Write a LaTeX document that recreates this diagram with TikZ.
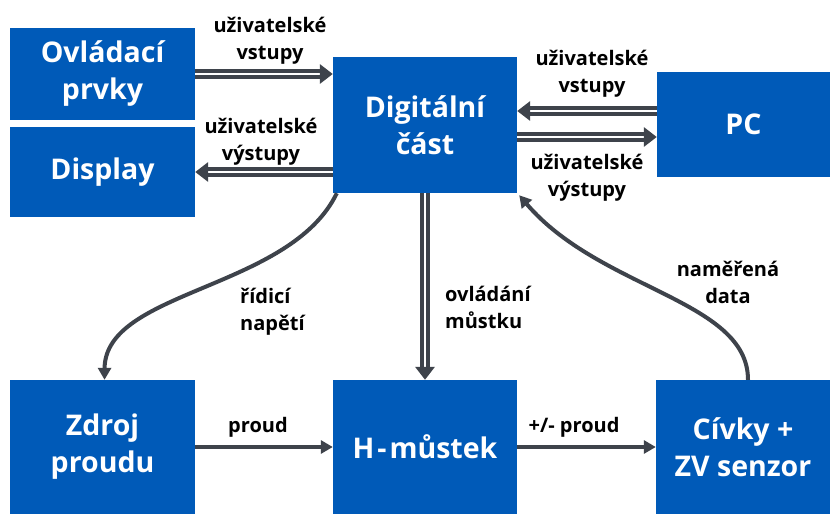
\documentclass[tikz,border=0pt]{standalone}
\usepackage{fontspec}
\setmainfont{Open Sans}
\usetikzlibrary{arrows.meta}
\definecolor{boxblue}{RGB}{0,90,184}
\definecolor{arrgray}{RGB}{62,67,75}
\begin{document}
\begin{tikzpicture}[x=1pt,y=-1pt,
  box/.style={fill=boxblue, draw=none, text=white, font=\fontsize{28.5}{37}\selectfont\bfseries, align=center, inner sep=0pt},
  lbl/.style={font=\fontsize{20}{27}\selectfont\bfseries, inner sep=0pt},
  dbl/.style={draw=arrgray, double=white, line width=4pt, double distance=2pt, -{Triangle[length=13pt,width=19pt]}},
  sgl/.style={draw=arrgray, line width=4pt, -{Triangle[length=12pt,width=13pt]}}]
\useasboundingbox (0,0) rectangle (830,514);
\fill[white] (0,0) rectangle (830,514);
% boxes
\node[box, minimum width=185pt, minimum height=92pt] (ctrl) at (102.5,74) {Ovládací\\prvky};
\node[box, minimum width=185pt, minimum height=90pt] (disp) at (102.5,172) {Display};
\node[box, minimum width=184pt, minimum height=136pt] (dig) at (425,125) {Digitální\\část};
\node[box, minimum width=173pt, minimum height=105pt] (pc) at (743.5,124.5) {PC};
\node[box, minimum width=185pt, minimum height=134pt] (zdroj) at (102.5,447) {Zdroj\\proudu};
\node[box, minimum width=184pt, minimum height=134pt] (hm) at (425,447) {H\kern3pt-\kern3pt můstek};
\node[box, minimum width=174pt, minimum height=134pt] (civ) at (743,447) {Cívky +\\ZV senzor};
% double arrows
\draw[dbl] (ctrl.east) -- (ctrl.east -| dig.west);
\draw[dbl] (dig.west |- disp.east) -- (disp.east);
\draw[dbl] ([yshift=13.5pt]pc.west) -- ([yshift=13.5pt]pc.west -| dig.east);
\draw[dbl] ([yshift=-12.5pt]pc.west -| dig.east) -- ([yshift=-12.5pt]pc.west);
\draw[dbl] (dig.south) -- (hm.north);
% curves
\draw[sgl] ([xshift=4pt]dig.south west) .. controls (290,290) and (105,290) .. ([xshift=2pt]zdroj.north);
\draw[sgl] ([xshift=5pt]civ.north) .. controls (748,300) and (600,290) .. ([xshift=2pt,yshift=-2pt]dig.south east);
% single arrows
\draw[sgl] (zdroj.east) -- (hm.west);
\draw[sgl] (hm.east) -- (civ.west);
% labels
\node[lbl, align=center] (l1) at (270,41) {uživatelské\\vstupy};
\node[lbl, align=center] (l2) at (261,142) {uživatelské\\výstupy};
\node[lbl, align=center] (l3) at (592,74) {uživatelské\\vstupy};
\node[lbl, align=center] (l4) at (587,178) {uživatelské\\výstupy};
\node[lbl, align=left, anchor=west] (l5) at (445,307) {ovládání\\můstku};
\node[lbl, align=left, anchor=west] (l6) at (240,312) {řídicí\\napětí};
\node[lbl, align=center] (l7) at (728,282) {naměřená\\data};
\node[lbl] (l8) at (258,427) {proud};
\node[lbl] (l9) at (574,427) {+/- proud};
\end{tikzpicture}
\end{document}
